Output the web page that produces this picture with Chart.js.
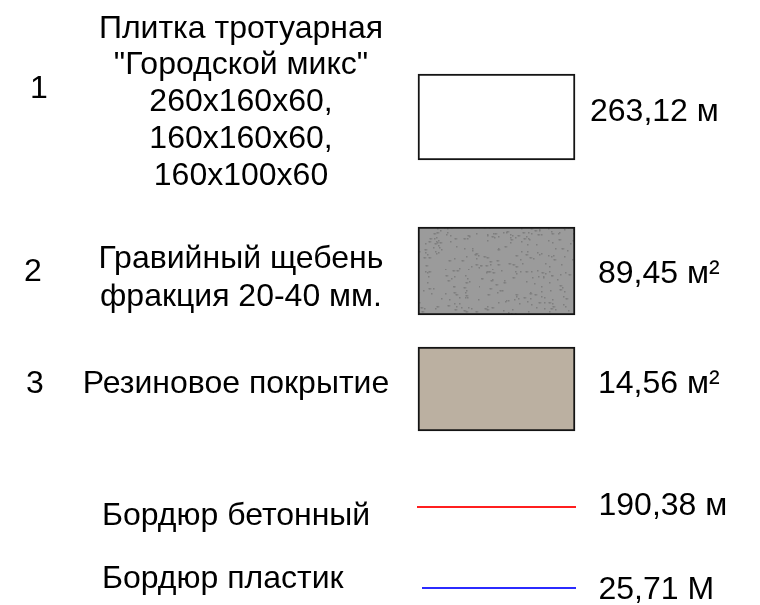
<!DOCTYPE html>
<html lang="ru">
<head>
<meta charset="UTF-8">
<title>Условные обозначения</title>
<script src="https://cdn.jsdelivr.net/npm/chart.js"></script>
<style>
    html, body { margin: 0; padding: 0; background: #fff; }
    canvas { display: block; }
</style>
</head>
<body>
<canvas id="legendChart" width="760" height="605"></canvas>
<script>
    // --- data ---
    const rowNumbers = ['1', '2', '3', '', ''];
    const materialLines = [
        ['Плитка тротуарная', '"Городской микс"', '260x160x60,', '160x160x60,', '160x100x60'],
        ['Гравийный щебень', 'фракция 20-40 мм.'],
        ['Резиновое покрытие'],
        ['Бордюр бетонный'],
        ['Бордюр пластик']
    ];
    const quantities = [263.12, 89.45, 14.56, 190.38, 25.71];
    const units = ['м', 'м²', 'м²', 'м', 'М'];
    const swatchKinds = ['box', 'box', 'box', 'line', 'line'];

    // --- layout (in scale units, 1 unit = 1 px) ---
    const rowY = [117, 271, 389, 507, 588];
    const boxSpan = [418, 575];
    const boxHeights = [86, 88, 84];
    const lineSpans = [[417, 576], [422, 576]];
    const nameX = [241, 241, 236, 102, 102];
    const nameAlign = ['center', 'center', 'center', 'left', 'left'];
    const nameBaseline = [37.5, 268, 393, 525, 588];
    const nameStep = [36.75, 38, 0, 0, 0];
    const numX = [30, 24, 26];
    const numBaseline = [98, 281, 393];
    const qtyX = [590, 598, 598, 598.5, 598.5];
    const qtyBaseline = [121, 283, 393, 515, 599];

    // --- styles ---
    const FONT = '32px "Liberation Sans", Arial, sans-serif';
    const lineColors = ['#ff1f1f', '#2b2bff'];

    // speckled gravel fill
    function gravelPattern() {
        const c = document.createElement('canvas');
        c.width = 160; c.height = 90;
        const g = c.getContext('2d');
        g.fillStyle = '#9b9b9b';
        g.fillRect(0, 0, 160, 90);
        let s = 987654;
        const next = () => { s = (s * 1103515245 + 12345) % 2147483648; return s / 2147483648; };
        g.fillStyle = '#7e7e7e';
        for (let i = 0; i < 320; i++) {
            const x = Math.floor(next() * 160), y = Math.floor(next() * 90);
            g.fillRect(x, y, 1.5, 1.5);
            if (next() < 0.3) { g.fillRect(x - 1, y + 0.5, 3.5, 0.7); }
        }
        return document.createElement('canvas').getContext('2d').createPattern(c, 'repeat');
    }
    const boxFills = ['#ffffff', gravelPattern(), '#bbb0a1'];

    const fmt = v => v.toFixed(2).replace('.', ',');

    const datasets = [];
    swatchKinds.forEach((kind, i) => {
        if (kind === 'box') {
            datasets.push({
                type: 'bar',
                indexAxis: 'y',
                data: [{ y: rowY[i], x: boxSpan }],
                backgroundColor: boxFills[i],
                borderColor: '#141414',
                borderWidth: 2,
                borderSkipped: false,
                barThickness: boxHeights[i],
                grouped: false
            });
        } else {
            const k = i - 3;
            datasets.push({
                type: 'line',
                data: [{ x: lineSpans[k][0], y: rowY[i] }, { x: lineSpans[k][1], y: rowY[i] }],
                borderColor: lineColors[k],
                borderWidth: 2,
                pointRadius: 0,
                fill: false
            });
        }
    });

    const labelsPlugin = {
        id: 'legendText',
        afterDatasetsDraw(chart) {
            const ctx = chart.ctx;
            const sx = chart.scales.x, sy = chart.scales.y;
            ctx.save();
            ctx.font = FONT;
            ctx.fillStyle = '#000';
            ctx.textBaseline = 'alphabetic';
            materialLines.forEach((lines, i) => {
                ctx.textAlign = nameAlign[i];
                lines.forEach((t, j) => {
                    ctx.fillText(t, sx.getPixelForValue(nameX[i]),
                        sy.getPixelForValue(nameBaseline[i] + j * nameStep[i]));
                });
                ctx.textAlign = 'left';
                if (rowNumbers[i]) {
                    ctx.fillText(rowNumbers[i], sx.getPixelForValue(numX[i]), sy.getPixelForValue(numBaseline[i]));
                }
                ctx.fillText(fmt(quantities[i]) + ' ' + units[i],
                    sx.getPixelForValue(qtyX[i]), sy.getPixelForValue(qtyBaseline[i]));
            });
            ctx.restore();
        }
    };

    new Chart(document.getElementById('legendChart'), {
        type: 'bar',
        data: { datasets },
        options: {
            responsive: false,
            animation: false,
            devicePixelRatio: 1,
            layout: { padding: 0 },
            scales: {
                x: { type: 'linear', min: 0, max: 760, offset: false, display: false },
                y: { type: 'linear', min: 0, max: 605, reverse: true, offset: false, display: false }
            },
            plugins: { legend: { display: false }, tooltip: { enabled: false } }
        },
        plugins: [labelsPlugin]
    });
</script>
</body>
</html>
